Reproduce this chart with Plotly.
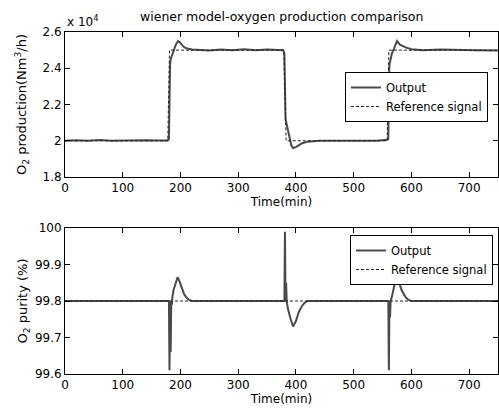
import plotly.graph_objects as go

# Top: oxygen production (x 10^4 Nm3/h)
t_prod = [0, 20, 40, 60, 80, 100, 120, 140, 160, 178, 180, 181, 182, 183, 185, 188, 192, 196, 200, 205,
          210, 220, 230, 250, 270, 290, 310, 330, 350, 370, 378, 380, 381, 382, 384, 386, 388, 392, 395,
          400, 410, 420, 440, 460, 480, 500, 520, 540, 558, 560, 561, 562, 564, 566, 570, 575, 580, 590,
          600, 620, 650, 680, 710, 750]
out_prod = [2.0, 2.003, 2.0, 2.004, 2.0, 2.002, 2.0, 2.003, 2.001, 2.002, 2.01, 2.35, 2.42, 2.45, 2.47,
            2.5, 2.53, 2.55, 2.54, 2.52, 2.51, 2.503, 2.5, 2.498, 2.503, 2.5, 2.505, 2.5, 2.503, 2.5, 2.5,
            2.48, 2.24, 2.12, 2.09, 2.06, 2.02, 1.975, 1.96, 1.965, 1.985, 1.995, 2.0, 2.0, 2.0, 2.0, 2.003,
            2.0, 2.005, 2.01, 2.35, 2.42, 2.45, 2.48, 2.51, 2.55, 2.53, 2.515, 2.505, 2.5, 2.503, 2.5, 2.5,
            2.498]
t_ref_prod = [0, 178, 181, 379, 383, 558, 561, 750]
ref_prod = [2.0, 2.0, 2.5, 2.5, 2.0, 2.0, 2.5, 2.5]

# Bottom: oxygen purity (%)
t_pur = [0, 180, 181, 182, 183, 184, 185, 186, 188, 192, 195, 198, 202, 206, 210, 215, 220, 380, 381,
         382, 383, 384, 386, 390, 395, 400, 405, 410, 415, 420, 560, 561, 562, 563, 564, 566, 570, 574,
         578, 583, 590, 595, 600, 750]
out_pur = [99.8, 99.8, 99.61, 99.8, 99.66, 99.8, 99.79, 99.81, 99.83, 99.85, 99.865, 99.855, 99.835,
           99.82, 99.81, 99.803, 99.8, 99.8, 99.99, 99.8, 99.85, 99.8, 99.78, 99.755, 99.73, 99.745,
           99.77, 99.785, 99.795, 99.8, 99.8, 99.61, 99.8, 99.755, 99.8, 99.81, 99.84, 99.865, 99.855,
           99.83, 99.81, 99.803, 99.8, 99.8]
t_ref_pur = [0, 750]
ref_pur = [99.8, 99.8]

x_ticks = [0, 100, 200, 300, 400, 500, 600, 700]
prod_ticks = [1.8, 2.0, 2.2, 2.4, 2.6]
prod_labels = ["1.8", "2", "2.2", "2.4", "2.6"]
pur_ticks = [99.6, 99.7, 99.8, 99.9, 100.0]
pur_labels = ["99.6", "99.7", "99.8", "99.9", "100"]

FONT = "DejaVu Sans, Liberation Sans, Arial, sans-serif"
out_line = dict(color="#4a4a4a", width=2)
ref_line = dict(color="#222222", width=1, dash="3px,2px")

fig = go.Figure()
fig.add_trace(go.Scatter(x=t_prod, y=out_prod, mode="lines", line=out_line, name="Output",
                         xaxis="x", yaxis="y", legend="legend"))
fig.add_trace(go.Scatter(x=t_ref_prod, y=ref_prod, mode="lines", line=ref_line, name="Reference signal",
                         xaxis="x", yaxis="y", legend="legend"))
fig.add_trace(go.Scatter(x=t_pur, y=out_pur, mode="lines", line=out_line, name="Output",
                         xaxis="x2", yaxis="y2", legend="legend2"))
fig.add_trace(go.Scatter(x=t_ref_pur, y=ref_pur, mode="lines", line=ref_line, name="Reference signal",
                         xaxis="x2", yaxis="y2", legend="legend2"))

ax_common = dict(showgrid=False, zeroline=False, showline=True, linecolor="black", linewidth=1,
                 mirror="ticks", ticks="inside", ticklen=5, tickcolor="black",
                 tickfont=dict(family=FONT, size=12, color="black"))

top_dom = [(374 - 177) / 342, 1.0]
bot_dom = [0.0, (374 - 228) / 342]

leg_common = dict(xanchor="right", yanchor="top", bgcolor="white", bordercolor="black", borderwidth=1,
                  tracegroupgap=0, font=dict(family=FONT, size=11.5), itemwidth=30)

fig.update_layout(
    width=499, height=412,
    margin=dict(l=65, r=1, t=32, b=38),
    paper_bgcolor="white", plot_bgcolor="white",
    font=dict(family=FONT, size=12, color="black"),
    xaxis=dict(**ax_common, domain=[0, 1], range=[0, 750], tickvals=x_ticks, anchor="y",
               title=dict(text="Time(min)", standoff=3, font=dict(size=12))),
    yaxis=dict(**ax_common, domain=top_dom, range=[1.8, 2.6], tickvals=prod_ticks,
               ticktext=prod_labels, anchor="x",
               title=dict(text="O<sub>2</sub> production(Nm<sup>3</sup>/h)", standoff=12, font=dict(size=13))),
    xaxis2=dict(**ax_common, domain=[0, 1], range=[0, 750], tickvals=x_ticks, anchor="y2",
                title=dict(text="Time(min)", standoff=3, font=dict(size=12))),
    yaxis2=dict(**ax_common, domain=bot_dom, range=[99.6, 100.0], tickvals=pur_ticks,
                ticktext=pur_labels, anchor="x2",
                title=dict(text="O<sub>2</sub> purity (%)", standoff=4, font=dict(size=13))),
    legend=dict(**leg_common, x=(488 - 65) / 433, y=(374 - 72) / 342),
    legend2=dict(**leg_common, x=(493 - 65) / 433, y=(374 - 235) / 342),
    showlegend=True,
    annotations=[
        dict(text="wiener model-oxygen production comparison", xref="paper", yref="paper",
             x=0.5, y=1.0, yshift=6, xanchor="center", yanchor="bottom", showarrow=False,
             font=dict(family=FONT, size=12.5)),
        dict(text="x 10<sup>4</sup>", xref="paper", yref="paper", x=0, y=1.0, yshift=1,
             xanchor="left", yanchor="bottom", showarrow=False, font=dict(family=FONT, size=12)),
    ],
)

fig.write_html("out.html")
